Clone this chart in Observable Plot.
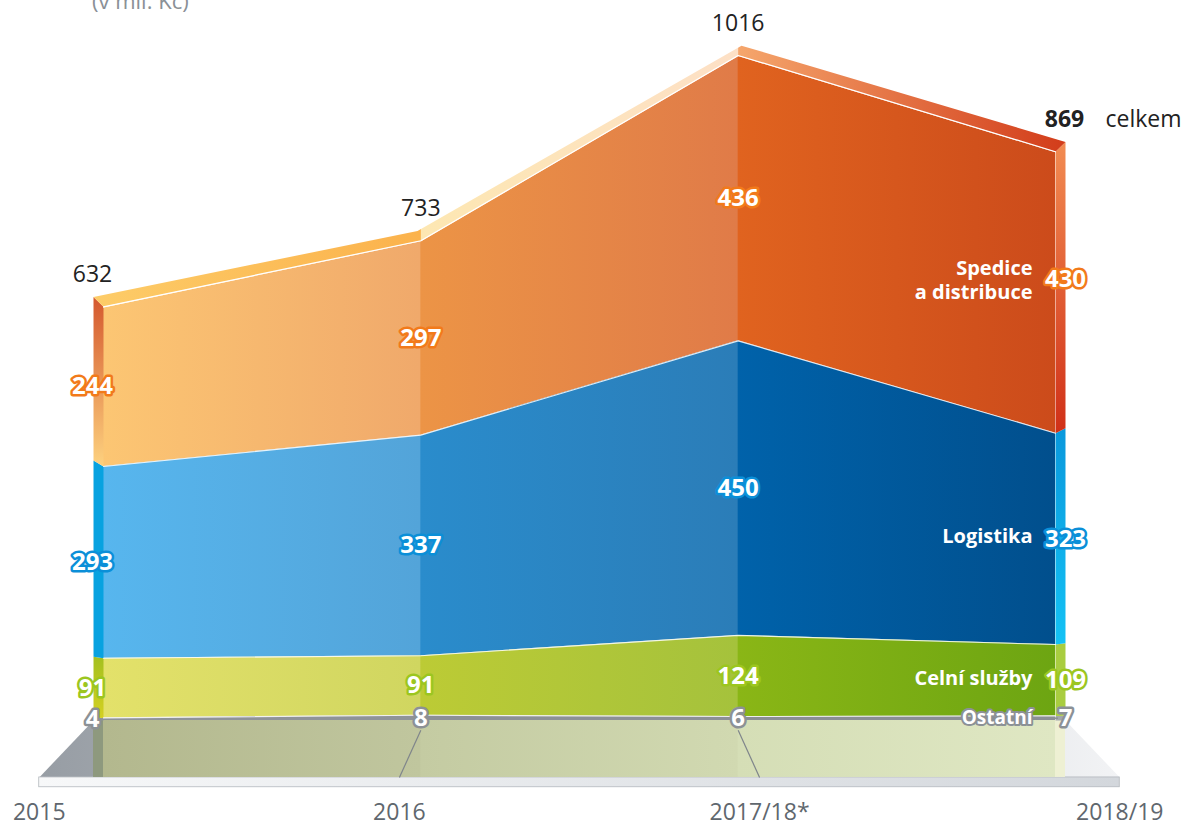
<!DOCTYPE html>
<html><head><meta charset="utf-8">
<script src="https://cdn.jsdelivr.net/npm/d3@7"></script>
<script src="https://cdn.jsdelivr.net/npm/@observablehq/plot@0.6"></script>
<style>
body{margin:0;background:#fff;overflow:hidden}
#wrap{position:relative;width:1182px;height:826px}
#unit{position:absolute;left:92px;top:-15px;font:22px "Open Sans";color:#8a9096;white-space:nowrap}
</style></head><body>
<div id="wrap"><div id="chart"></div><div id="unit">(v mil. Kč)</div></div>
<script>
// ---- data ----
const periods = ["2015", "2016", "2017/18*", "2018/19"];
const seriesNames = ["Ostatní", "Celní služby", "Logistika", "Spedice\na distribuce"];
const ostatni = [4, 8, 6, 7];
const celni = [91, 91, 124, 109];
const logistika = [293, 337, 450, 323];
const spedice = [244, 297, 436, 430];
const totals = [632, 733, 1016, 869];
const totalWord = "celkem";

// ---- styles ----
const labelStroke = ["#8c9196", "#9cc61f", "#0b8fd8", "#f27a1a"];
const areaStops = [
  ["#8f9398", "#8f9398", "#8c9095", "#8c9095", "#8a8e93", "#8a8e93"],
  ["#e3e16a", "#d0d660", "#bccb35", "#a5c23c", "#8ab616", "#6da512"],
  ["#57b6ee", "#53a4d9", "#2a8ccc", "#2b7db8", "#0062aa", "#014f8d"],
  ["#fcc673", "#f0a96b", "#ec9446", "#e07b48", "#e0631f", "#cc4b1b"]
];
const sideLeft = [["#8f9398","#8f9398"],["#a4c020","#d4d022"],["#08a2e0","#08a2e0"],["#d4582e","#fdd27f"]];
const sideRight = [["#a3a7ab","#a3a7ab"],["#a9cd40","#a9cd40"],["#0a98dc","#14c2f5"],["#f28c52","#d03018"]];

const seriesValues = [ostatni, celni, logistika, spedice];
const idx = d3.range(periods.length);

// stacked rows
const rows = [];
let base = idx.map(() => 0);
seriesValues.forEach((vals, s) => {
  idx.forEach(i => rows.push({s, i, v: vals[i], y1: base[i], y2: base[i] + vals[i]}));
  base = base.map((b, i) => b + vals[i]);
});

// 3D decoration parameters (in data units)
const lipH = 15, depth = 87, slab = 15, kFloor = 1.135, kBack = 1.021;
const back = i => 1.5 + (i - 1.5) * kBack;
const persp = i => 1.5 + (i - 1.5) * kFloor;

const floorPts = [{x: back(0), y: 0}, {x: back(3), y: 0}, {x: persp(3), y: -depth}, {x: persp(0), y: -depth}];
const slabRect = [{x1: persp(0), x2: persp(3), y1: -depth, y2: -depth - slab}];
const reflRect = [{x1: back(0), x2: back(3), y1: 0, y2: -depth}];
const perspLines = [1, 2].map(i => ({x1: i, y1: -15, x2: persp(i), y2: -depth}));

const marks = [];
marks.push(Plot.line(floorPts, {x: "x", y: "y", fill: "url(#gFloor)", stroke: "none"}));
marks.push(Plot.rect(slabRect, {x1: "x1", x2: "x2", y1: "y1", y2: "y2", fill: "url(#gSlab)", stroke: "#b3b8bd", strokeWidth: 0.8}));
marks.push(Plot.rect(reflRect, {x1: "x1", x2: "x2", y1: "y1", y2: "y2", fill: "url(#gRefl)"}));
marks.push(Plot.link(perspLines, {x1: "x1", y1: "y1", x2: "x2", y2: "y2", stroke: "#7f858b", strokeWidth: 1.2}));

// areas
seriesValues.forEach((vals, s) => {
  marks.push(Plot.areaY(rows.filter(r => r.s === s), {x: "i", y1: "y1", y2: "y2", fill: `url(#gS${s})`, curve: "linear"}));
});
// side strips
seriesValues.forEach((vals, s) => {
  [0, 3].forEach(side => {
    const r = rows.find(d => d.s === s && d.i === side);
    const f = 1 + lipH / totals[side];
    const pts = [{x: side, y: r.y2}, {x: back(side), y: r.y2 * f}, {x: back(side), y: r.y1 * f}, {x: side, y: r.y1}];
    marks.push(Plot.line(pts, {x: "x", y: "y", fill: `url(#gSide${side}_${s})`, stroke: "none"}));
  });
});
// white separators
seriesValues.forEach((vals, s) => {
  marks.push(Plot.line(rows.filter(r => r.s === s), {x: "i", y: "y2", stroke: "white", strokeWidth: 1.1, strokeOpacity: 0.85}));
});
// lip (top face)
const lipPts = idx.map(i => ({x: i, y: totals[i]})).concat(idx.slice().reverse().map(i => ({x: back(i), y: totals[i] + lipH})));
marks.push(Plot.line(lipPts, {x: "x", y: "y", fill: "url(#gLip)", stroke: "none"}));
marks.push(Plot.line(idx, {x: i => i, y: i => totals[i], stroke: "white", strokeWidth: 1.2}));

// Ostatní connector
const ostMid = rows.find(r => r.s === 0 && r.i === 3);
marks.push(Plot.ruleY([ostMid], {x1: () => 3, x2: () => 3, y: d => (d.y1 + d.y2) / 2, insetLeft: -22, insetRight: -3, stroke: "#8c9196", strokeWidth: 1.5}));

// value labels
const valStyle = {fill: "white", fontWeight: 700, fontSize: 24, strokeWidth: 5, strokeLinejoin: "round", paintOrder: "stroke", fontFamily: "Open Sans"};
idx.forEach(i => {
  const dx = i === 0 ? -11 : i === 3 ? 10 : 0;
  marks.push(Plot.text(rows.filter(r => r.i === i && !(i === 3 && r.s === 3)), {
    x: "i", y: r => (r.y1 + r.y2) / 2, text: "v", stroke: r => labelStroke[r.s], dx, ...valStyle
  }));
});
marks.push(Plot.text(rows.filter(r => r.i === 3 && r.s === 3), {
  x: "i", y: r => (r.y1 + r.y2) / 2, text: "v", stroke: r => labelStroke[r.s], dx: 10, dy: -13, ...valStyle
}));

// series names at right
const nameRows = rows.filter(r => r.i === 3);
const nameStyle = {textAnchor: "end", dx: -23, fill: "white", fontWeight: 700, fontSize: 20, fontFamily: "Open Sans"};
marks.push(Plot.text(nameRows.filter(r => r.s === 1 || r.s === 2), {
  x: "i", y: r => (r.y1 + r.y2) / 2, text: r => seriesNames[r.s], dy: -2, ...nameStyle
}));
marks.push(Plot.text(nameRows.filter(r => r.s === 3), {
  x: "i", y: r => (r.y1 + r.y2) / 2, text: r => seriesNames[r.s], dy: -13, lineHeight: 1.2, ...nameStyle
}));
marks.push(Plot.text(nameRows.filter(r => r.s === 0), {
  x: "i", y: r => (r.y1 + r.y2) / 2, text: r => seriesNames[r.s],
  stroke: "#8c9196", strokeWidth: 4, paintOrder: "stroke", strokeLinejoin: "round", ...nameStyle, fontSize: 19
}));

// totals
idx.forEach(i => {
  marks.push(Plot.text([i], {x: d => d, y: d => totals[d], text: d => String(totals[d]), dy: -32,
    dx: i === 0 ? -11 : i === 3 ? 9 : 0, fill: "#222", fontSize: 23, fontWeight: i === 3 ? 700 : 400, fontFamily: "Open Sans"}));
});
marks.push(Plot.text([totalWord], {x: () => 3, y: () => totals[3], text: d => d, dy: -32, dx: 50, textAnchor: "start",
  fill: "#222", fontSize: 23, fontFamily: "Open Sans"}));

// period labels on the floor
marks.push(Plot.text(idx, {x: i => persp(i), y: () => -depth, text: i => periods[i], dy: 35, fill: "#60676e", fontSize: 23, fontFamily: "Open Sans"}));

const svg = Plot.plot({
  width: 1182, height: 826, margin: 0,
  style: {fontFamily: "Open Sans", background: "transparent", overflow: "visible"},
  x: {domain: [0, 3], range: [103, 1055], axis: null},
  y: {domain: [0, 1016], range: [720, 55], axis: null},
  color: {type: "identity"},
  marks
});

// gradients from the scales
const X = v => svg.scale("x").apply(v), Y = v => svg.scale("y").apply(v);
const W = 1182;
function hgrad(id, stops) {
  return `<linearGradient id="${id}" gradientUnits="userSpaceOnUse" x1="0" y1="0" x2="${W}" y2="0">` +
    stops.map(([px, c]) => `<stop offset="${Math.max(0, Math.min(1, px / W))}" stop-color="${c}"/>`).join("") + `</linearGradient>`;
}
function vgrad(id, ya, yb, c1, c2) {
  return `<linearGradient id="${id}" gradientUnits="userSpaceOnUse" x1="0" y1="${ya}" x2="0" y2="${yb}"><stop offset="0" stop-color="${c1}"/><stop offset="1" stop-color="${c2}"/></linearGradient>`;
}
const segStops = cs => [[X(0), cs[0]], [X(1) - 0.5, cs[1]], [X(1) + 0.5, cs[2]], [X(2) - 0.5, cs[3]], [X(2) + 0.5, cs[4]], [X(3), cs[5]]];
let defsHTML = "";
areaStops.forEach((cs, s) => { defsHTML += hgrad(`gS${s}`, segStops(cs)); });
seriesValues.forEach((vals, s) => {
  const r0 = rows.find(d => d.s === s && d.i === 0), r3 = rows.find(d => d.s === s && d.i === 3);
  defsHTML += vgrad(`gSide0_${s}`, Y(r0.y2 * (1 + lipH / totals[0])), Y(r0.y1), sideLeft[s][0], sideLeft[s][1]);
  defsHTML += vgrad(`gSide3_${s}`, Y(r3.y2 * (1 + lipH / totals[3])), Y(r3.y1), sideRight[s][0], sideRight[s][1]);
});
defsHTML += hgrad("gLip", [[X(back(0)), "#fdcc68"], [X(1) - 0.5, "#fbb24c"], [X(1) + 0.5, "#fde7b2"], [X(2) - 0.5, "#fde0c6"], [X(2) + 0.5, "#f5a66c"], [X(back(3)), "#d23c1a"]]);
defsHTML += hgrad("gFloor", [[X(persp(0)), "#979da4"], [X(1.5), "#c5c9ce"], [X(persp(3)), "#f2f3f5"]]);
defsHTML += hgrad("gRefl", [[X(back(0)), "#8e997e"], [X(0) - 0.5, "#8e997e"], [X(0) + 0.5, "#b3b88e"], [X(1) - 0.5, "#c0c69e"], [X(1) + 0.5, "#c4cba2"], [X(2) - 0.5, "#d1d9b1"], [X(2) + 0.5, "#d5deb6"], [X(3) - 0.5, "#dfe7c3"], [X(3) + 0.5, "#eef0d3"], [X(back(3)), "#eef0d3"]]);
defsHTML += hgrad("gSlab", [[X(persp(0)), "#f7f8f9"], [X(persp(3)), "#d3d7dc"]]);
const defs = document.createElementNS("http://www.w3.org/2000/svg", "defs");
defs.innerHTML = defsHTML;
svg.insertBefore(defs, svg.firstChild);
document.getElementById("chart").append(svg);
</script>
</body></html>
